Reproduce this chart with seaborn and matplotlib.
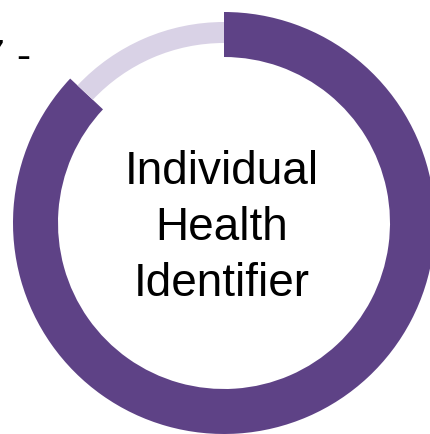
import matplotlib
matplotlib.use("Agg")
import matplotlib.pyplot as plt
import seaborn as sns

# ring data
segments = ["Complete", "Remaining"]
shares = [87, 13]
center_label = ["Individual", "Health", "Identifier"]
corner_label = "7 -"

dark_purple = "#5E4286"
light_purple = "#D9D2E6"


def plot_ring():
    plt.close("all")
    sns.set_theme(style="white")
    plt.rcParams["font.family"] = ["Liberation Sans", "DejaVu Sans"]

    fig = plt.figure(figsize=(4.30, 4.34), dpi=100)
    ax = fig.add_axes([0, 0, 1, 1])

    cx, cy = 224, 211

    # thick dark ring for the completed share
    ax.pie(shares, radius=211, center=(cx, cy), startangle=90, counterclock=False,
           colors=[dark_purple, "none"], wedgeprops=dict(width=45, linewidth=0))
    # thin light ring for the remainder
    ax.pie(shares, radius=201, center=(cx, cy), startangle=90, counterclock=False,
           colors=["none", light_purple], wedgeprops=dict(width=21, linewidth=0))

    for i, line in enumerate(center_label):
        ax.text(cx - 2, cy + 39.5 - 56 * i, line, ha="center", va="baseline",
                fontsize=33, color="black")

    ax.text(31, 365, corner_label, ha="right", va="baseline", fontsize=31, color="black")

    ax.set_xlim(0, 430)
    ax.set_ylim(0, 434)
    ax.set_aspect("auto")
    ax.axis("off")

    fig.savefig("out.png", dpi=100)


if __name__ == "__main__":
    plot_ring()
